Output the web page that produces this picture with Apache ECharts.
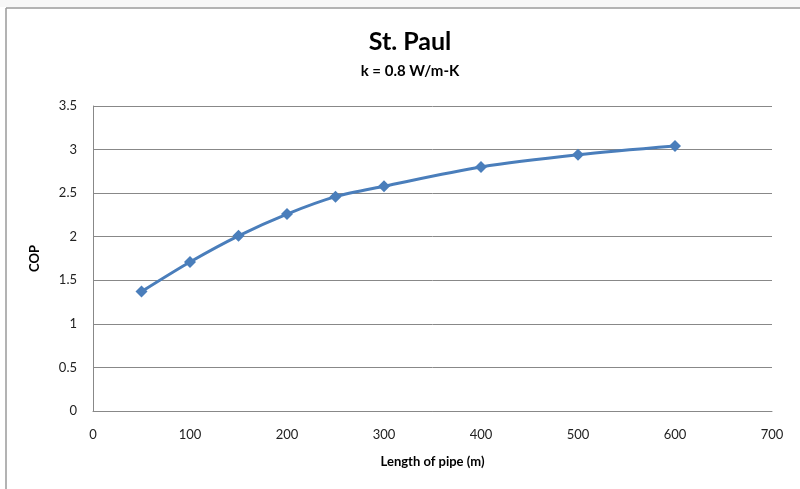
<!DOCTYPE html>
<html><head><meta charset="utf-8">
<script src="https://cdn.jsdelivr.net/npm/echarts@6/dist/echarts.min.js"></script>
<style>html,body{margin:0;padding:0;background:#fff}#c{width:800px;height:489px}</style>
</head><body><div id="c"></div>
<script>
const lengths = [50, 100, 150, 200, 250, 300, 400, 500, 600];
const cop = [1.37, 1.71, 2.01, 2.26, 2.46, 2.58, 2.80, 2.94, 3.04];
const titleText = 'St. Paul';
const subtitleText = 'k = 0.8 W/m-K';
const xName = 'Length of pipe (m)';
const yName = 'COP';

const chart = echarts.init(document.getElementById('c'));
const font = 'Lato, "Open Sans", sans-serif';
chart.setOption({
  animation: false,
  backgroundColor: '#fff',
  graphic: [
    {type: 'rect', shape: {x: 0, y: 0, width: 800, height: 7}, style: {fill: '#f7f7f7'}, silent: true},
    {type: 'line', shape: {x1: 6, y1: 8, x2: 800, y2: 8}, style: {stroke: '#9a9a9a', lineWidth: 1.5}},
    {type: 'line', shape: {x1: 6, y1: 8, x2: 6, y2: 489}, style: {stroke: '#9a9a9a', lineWidth: 1.5}},
    {type: 'text', x: 410, y: 29, style: {text: titleText, font: 'bold 25px ' + font, fill: '#000', textAlign: 'center', textVerticalAlign: 'top'}},
    {type: 'text', x: 410, y: 64, style: {text: subtitleText, font: 'bold 15px ' + font, fill: '#000', textAlign: 'center', textVerticalAlign: 'top'}}
  ],
  grid: {left: 93, right: 28, top: 106, bottom: 78},
  xAxis: {
    type: 'value', min: 0, max: 700, interval: 100,
    name: xName, nameLocation: 'middle', nameGap: 44,
    nameTextStyle: {fontFamily: font, fontWeight: 'bold', fontSize: 13, color: '#000'},
    axisLine: {show: true, lineStyle: {color: '#888', width: 1}},
    axisTick: {show: false},
    splitLine: {show: false},
    axisLabel: {fontFamily: font, fontSize: 13, color: '#222', margin: 17}
  },
  yAxis: {
    type: 'value', min: 0, max: 3.5, interval: 0.5,
    name: yName, nameLocation: 'middle', nameGap: 52, nameRotate: 90,
    nameTextStyle: {fontFamily: font, fontWeight: 'bold', fontSize: 13, color: '#000'},
    axisLine: {show: true, lineStyle: {color: '#888', width: 1}},
    axisTick: {show: false},
    splitLine: {show: true, lineStyle: {color: '#888', width: 1}},
    axisLabel: {fontFamily: font, fontSize: 13, color: '#222', margin: 16}
  },
  series: [{
    type: 'line',
    data: lengths.map((x, i) => [x, cop[i]]),
    smooth: 0.3,
    symbol: 'diamond', symbolSize: 12,
    lineStyle: {color: '#4a7ebb', width: 3},
    itemStyle: {color: '#4a7ebb'}
  }]
});
</script></body></html>
